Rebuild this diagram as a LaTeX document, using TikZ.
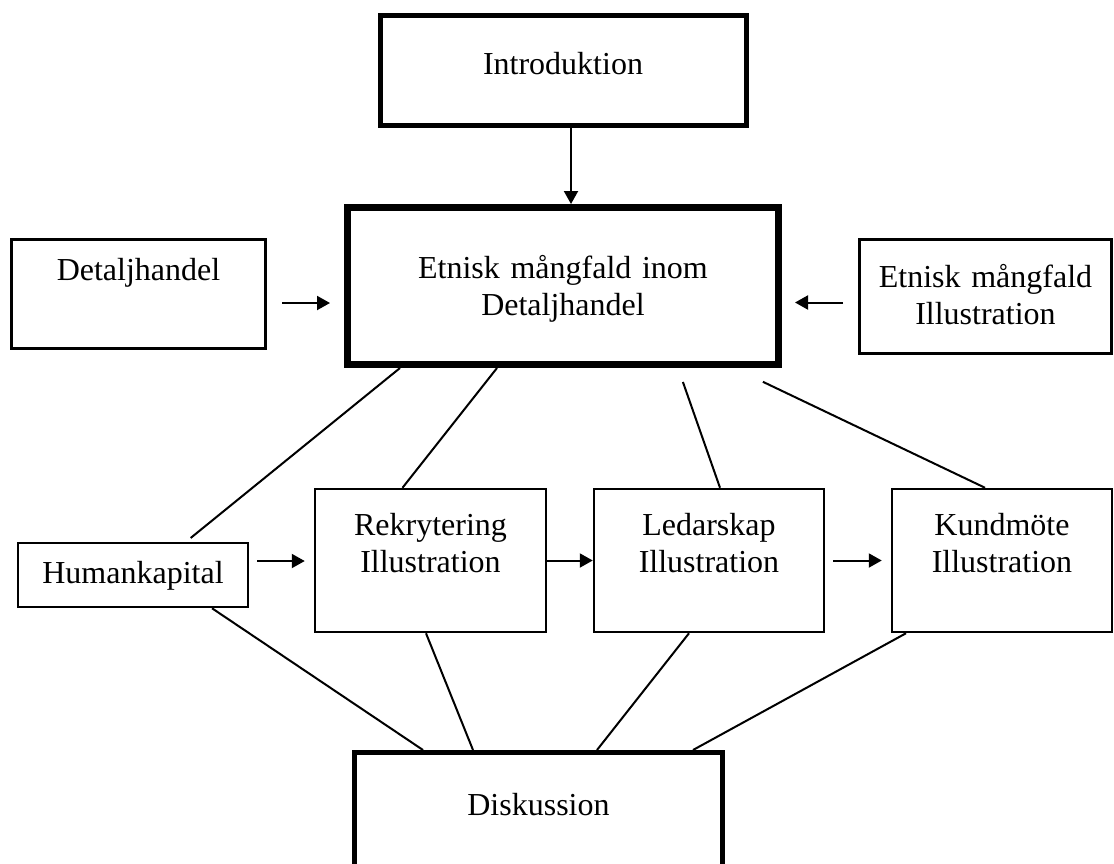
\documentclass[tikz,border=0pt]{standalone}
\usepackage{fontspec}
\setmainfont{Liberation Serif}
\usetikzlibrary{arrows.meta}

\begin{document}
\begin{tikzpicture}[x=0.5pt, y=-0.5pt, line width=1pt,
    >={Triangle[length=6.5pt,width=7pt]},
    box/.style={draw, inner sep=0pt, align=center,
        font=\fontsize{16}{18.5}\selectfont},
    illu/.style={box, line width=1.25pt, text height=23pt, text depth=48.5pt}]
    \useasboundingbox (0,0) rectangle (1114,863);
    \node[box, line width=2.5pt, text width=183pt, text height=29.25pt, text depth=25.75pt] (intro) at (563,70.5) {Introduktion};
    \node[box, line width=3.5pt, text width=215.5pt, text height=35.25pt, text depth=43.25pt] (etnisk) at (563,286) {Etnisk mångfald inom\\Detaljhandel};
    \node[box, line width=1.5pt, text width=127pt, text height=20.25pt, text depth=34.25pt] (detalj) at (138.5,294) {Detaljhandel};
    \node[box, line width=1.5pt, text width=126pt, text height=23.75pt, text depth=33.25pt] (etnill) at (985.5,296.5) {Etnisk mångfald\\Illustration};
    \node[box, line width=1.25pt, text width=115pt, text height=20pt, text depth=12pt] (human) at (133,575) {Humankapital};
    \node[illu, text width=115.5pt] (rekr) at (430.5,560.5) {Rekrytering\\Illustration};
    \node[illu, text width=115pt] (ledar) at (709,560.5) {Ledarskap\\Illustration};
    \node[illu, text width=110pt] (kund) at (1002,560.5) {Kundmöte\\Illustration};
    \node[box, line width=2.5pt, text width=184pt, text height=31.25pt, text depth=27.5pt] (disk) at (538.5,811.25) {Diskussion};

    \draw[->] ([xshift=4pt]intro.south) -- ([xshift=4pt]etnisk.north);
    \draw[->, shorten <=7.5pt, shorten >=7pt] ([yshift=-4.5pt]detalj.east) -- ([yshift=-4.5pt]detalj.east -| etnisk.west);
    \draw[->, shorten <=7.5pt, shorten >=6.5pt] ([yshift=-3pt]etnill.west) -- ([yshift=-3pt]etnill.west -| etnisk.east);
    \draw[->, shorten <=4pt, shorten >=4.5pt] ([yshift=7pt]human.east) -- ([yshift=7pt]human.east -| rekr.west);
    \draw[->] (rekr) -- (ledar);
    \draw[->, shorten <=4pt, shorten >=4.5pt] (ledar) -- (kund);

    \draw[shorten >=3pt] ([xshift=-81.5pt]etnisk.south) -- ([xshift=26.5pt]human.north);
    \draw ([xshift=-33pt]etnisk.south) -- ([xshift=-14pt]rekr.north);
    \draw[shorten <=7.4pt] ([xshift=57.5pt]etnisk.south) -- ([xshift=5.5pt]ledar.north);
    \draw[shorten <=16pt] ([xshift=85.5pt]etnisk.south) -- ([xshift=-8.5pt]kund.north);

    \draw ([xshift=39.5pt]human.south) -- ([xshift=-57.75pt]disk.north);
    \draw ([xshift=-2.25pt]rekr.south) -- ([xshift=-32.75pt]disk.north);
    \draw ([xshift=-10pt]ledar.south) -- ([xshift=29.25pt]disk.north);
    \draw ([xshift=-48pt]kund.south) -- ([xshift=77.25pt]disk.north);
\end{tikzpicture}
\end{document}
